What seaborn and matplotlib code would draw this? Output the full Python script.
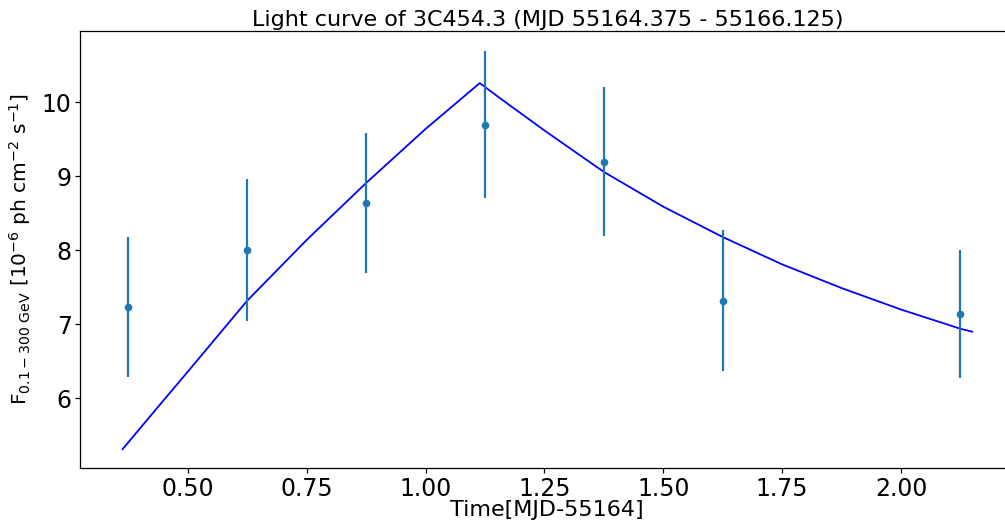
import matplotlib
matplotlib.use("Agg")
import matplotlib.pyplot as plt
import seaborn as sns
import pandas as pd

# Binned Fermi-LAT fluxes (days after MJD 55164) with 1-sigma errors
time_bins = [0.375, 0.625, 0.875, 1.125, 1.375, 1.625, 2.125]
flux = [7.23, 8.00, 8.64, 9.70, 9.20, 7.32, 7.14]
flux_err = [0.945, 0.96, 0.95, 0.995, 1.005, 0.955, 0.87]

# Fitted flare profile (rise to peak, then decay)
model_time = [0.3625, 0.45, 0.5, 0.625, 0.75, 0.875, 1.0, 1.114, 1.16, 1.25,
              1.375, 1.5, 1.625, 1.75, 1.875, 2.0, 2.125, 2.15]
model_flux = [5.31, 5.98, 6.36, 7.32, 8.14, 8.91, 9.64, 10.26, 10.04, 9.62,
              9.06, 8.59, 8.18, 7.81, 7.49, 7.20, 6.94, 6.90]

xticks = [0.50, 0.75, 1.00, 1.25, 1.50, 1.75, 2.00]
yticks = [6, 7, 8, 9, 10]

sns.set_theme(style="white")
plt.rcParams["font.family"] = ["DejaVu Sans"]
plt.rcParams["mathtext.fontset"] = "dejavusans"
plt.rcParams["text.color"] = "black"
plt.rcParams["axes.labelcolor"] = "black"

fig = plt.figure(figsize=(10.05, 5.2), dpi=100)
ax = fig.add_axes([0.0796, 0.0994, 0.93, 0.8404])

model_df = pd.DataFrame({"t": model_time, "F": model_flux})
sns.lineplot(data=model_df, x="t", y="F", sort=False, color="blue",
             linewidth=1.3, ax=ax, zorder=2)

ax.errorbar(time_bins, flux, yerr=flux_err, fmt="o", color="#1f77b4",
            markersize=4.5, elinewidth=1.6, capsize=0, zorder=3)

ax.set_xlim(0.2733, 2.239)
ax.set_ylim(5.054, 10.96)
ax.set_xticks(xticks)
ax.set_xticklabels([f"{v:.2f}" for v in xticks])
ax.set_yticks(yticks)

for side in ["left", "bottom", "top"]:
    ax.spines[side].set_color("black")
    ax.spines[side].set_linewidth(0.9)
ax.spines["right"].set_visible(False)

ax.tick_params(axis="both", which="major", labelsize=17, length=3.5,
               width=0.9, direction="out", color="black", labelcolor="black",
               bottom=True, left=True, pad=2.5)

ax.set_title("Light curve of 3C454.3 (MJD 55164.375 - 55166.125)",
             fontsize=16, pad=4, color="black")
ax.set_xlabel("Time[MJD-55164]", fontsize=16, color="black")
ax.xaxis.set_label_coords(0.499, -0.073)
ax.set_ylabel(r"$\mathrm{F_{0.1-300\ GeV}\ [10^{-6}\ ph\ cm^{-2}\ s^{-1}]}$",
              fontsize=14.5, color="black")
ax.yaxis.set_label_coords(-0.050, 0.502)

fig.savefig("out.png", dpi=100)
